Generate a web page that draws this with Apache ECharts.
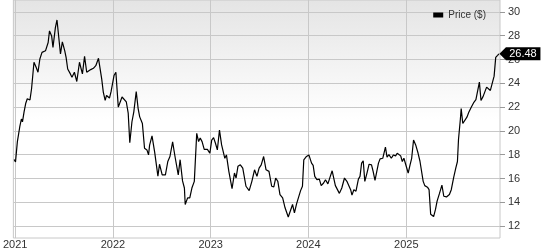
<!DOCTYPE html>
<html>
<head>
<meta charset="utf-8">
<script src="https://cdn.jsdelivr.net/npm/echarts@6/dist/echarts.min.js"></script>
<style>html,body{margin:0;padding:0;background:#fff}#c{width:541px;height:250px}</style>
</head>
<body>
<div id="c"></div>
<script>
const dates = [
'2020-12-28','2021-01-02','2021-01-09','2021-01-18','2021-01-24','2021-01-28','2021-02-03','2021-02-09','2021-02-15','2021-02-25',
'2021-03-03','2021-03-12','2021-03-20','2021-03-27','2021-04-03','2021-04-11','2021-04-24','2021-05-04','2021-05-09','2021-05-17',
'2021-05-22','2021-05-31','2021-06-06','2021-06-12','2021-06-19','2021-06-26','2021-07-05','2021-07-10','2021-07-16','2021-07-26',
'2021-08-01','2021-08-10','2021-08-19','2021-08-29','2021-09-09','2021-09-17','2021-09-25','2021-10-02','2021-10-10','2021-10-20',
'2021-10-29','2021-11-08','2021-11-14','2021-11-20','2021-11-26','2021-12-03','2021-12-08','2021-12-11','2021-12-19','2021-12-25',
'2021-12-30','2022-01-05','2022-01-12','2022-01-21','2022-01-27','2022-02-04','2022-02-11','2022-02-20','2022-02-27','2022-03-05',
'2022-03-13','2022-03-20','2022-03-29','2022-04-05','2022-04-11','2022-04-21','2022-04-29','2022-05-08','2022-05-14','2022-05-18',
'2022-05-27','2022-06-06','2022-06-18','2022-06-24','2022-07-04','2022-07-16','2022-07-25','2022-08-02','2022-08-12','2022-08-19',
'2022-08-22','2022-09-02','2022-09-09','2022-09-18','2022-09-25','2022-09-28','2022-10-07','2022-10-15','2022-10-23','2022-11-01',
'2022-11-04','2022-11-10','2022-11-17','2022-11-23','2022-11-30','2022-12-08','2022-12-20','2022-12-29',
'2023-01-05','2023-01-12','2023-01-19','2023-01-26','2023-02-03','2023-02-11','2023-02-17','2023-02-23','2023-03-01','2023-03-10',
'2023-03-22','2023-03-31','2023-04-06','2023-04-13','2023-04-22','2023-05-01','2023-05-13','2023-05-25','2023-06-04','2023-06-14',
'2023-06-23','2023-07-01','2023-07-09','2023-07-18','2023-07-27','2023-08-07','2023-08-17','2023-08-25','2023-09-01','2023-09-09',
'2023-09-17','2023-09-27','2023-10-06','2023-10-18','2023-10-25','2023-11-03','2023-11-10','2023-11-18','2023-11-25','2023-12-03',
'2023-12-10','2023-12-15','2023-12-25',
'2024-01-03','2024-01-13','2024-01-19','2024-01-25','2024-02-02','2024-02-11','2024-02-18','2024-02-27','2024-03-05','2024-03-14',
'2024-03-23','2024-03-30','2024-04-05','2024-04-11','2024-04-18','2024-04-26','2024-05-05','2024-05-15','2024-05-24','2024-05-30',
'2024-06-07','2024-06-12','2024-06-19','2024-06-27','2024-07-06','2024-07-12','2024-07-18','2024-07-24','2024-07-30','2024-08-07',
'2024-08-15','2024-08-24','2024-08-30','2024-09-06','2024-09-12','2024-09-19','2024-09-25','2024-10-05','2024-10-15','2024-10-21',
'2024-10-28','2024-11-06','2024-11-14','2024-11-22','2024-11-28','2024-12-05','2024-12-11','2024-12-17','2024-12-23','2024-12-29',
'2025-01-08','2025-01-15','2025-01-21','2025-01-28','2025-02-05','2025-02-14','2025-02-21','2025-02-27','2025-03-05','2025-03-11',
'2025-03-21','2025-03-27','2025-04-02','2025-04-13','2025-04-20','2025-04-26','2025-05-05','2025-05-14','2025-05-21','2025-05-31',
'2025-06-11','2025-06-18','2025-06-27','2025-07-05','2025-07-11','2025-07-15','2025-07-22','2025-07-25','2025-07-31','2025-08-07',
'2025-08-16','2025-08-22','2025-09-01','2025-09-09','2025-09-18','2025-09-24','2025-10-01','2025-10-07','2025-10-15','2025-10-22',
'2025-10-28','2025-11-03','2025-11-11','2025-11-18','2025-11-25','2025-12-01','2025-12-08','2025-12-13'
];
const prices = [
17.6,17.4,19.1,20.35,21.0,20.76,21.6,22.3,22.7,22.6,
23.54,25.77,25.35,24.93,26.04,26.6,26.73,27.43,28.4,27.98,
27.02,28.68,29.32,29.37,26.46,27.48,26.73,26.18,25.2,24.79,
24.5,24.93,24.15,25.77,24.79,26.26,24.93,24.79,25.15,25.26,
25.48,26.1,26.18,24.37,23.26,22.56,22.98,23.12,22.76,23.3,
23.2,24.65,24.93,22.0,21.87,22.85,22.9,22.43,21.5,19.0,
20.77,21.6,23.3,21.9,21.18,20.62,18.54,18.4,17.98,18.8,
19.58,18.2,16.2,17.2,16.3,16.3,17.43,17.85,19.07,18.1,
17.7,16.3,17.58,15.8,15.2,13.82,14.37,14.37,15.2,15.76,
15.9,19.79,19.1,19.4,19.1,18.45,18.45,18.12,
19.23,19.43,18.96,18.4,20.07,18.82,18.8,17.7,17.98,16.6,
15.15,16.46,16.04,17.02,17.15,16.87,15.35,14.98,15.76,16.73,
16.18,16.87,17.15,17.85,16.73,16.6,15.35,15.3,16.04,15.76,
14.65,14.37,13.54,12.76,12.9,13.82,13.12,13.87,13.9,14.98,
15.35,17.57,17.85,
17.98,17.29,17.1,16.18,15.9,15.95,15.4,15.62,15.9,15.55,
16.18,16.65,16.6,15.4,15.3,14.75,15.2,16.04,15.76,15.7,
15.06,14.6,15.06,14.93,15.95,16.18,17.29,17.48,15.76,16.46,
17.2,17.15,16.6,15.85,16.0,17.29,17.65,17.7,18.64,17.8,
18.0,17.7,17.98,17.9,18.12,17.98,17.9,17.43,17.7,17.6,
16.46,17.15,17.7,19.23,18.82,18.12,17.45,17.4,15.76,15.4,
15.27,15.06,13.0,12.8,13.4,14.1,14.75,15.45,14.51,14.45,
14.65,15.06,16.1,16.9,17.43,19.3,21.0,21.87,20.62,20.77,
21.18,21.55,22.0,22.35,22.62,22.7,24.1,22.56,22.9,23.0,
23.68,23.6,23.4,23.3,24.6,26.18,26.35,26.48
];
const yTickValues = [12,14,16,18,20,22,24,26,28,30];
const yearLabels = ['2021','2022','2023','2024','2025'];
const seriesName = 'Price ($)';
const lastLabel = '26.48';
const xStart = '2020-12-25';
const xEnd = '2025-12-17';

const chart = echarts.init(document.getElementById('c'), null, {renderer:'canvas'});
const font = "'Liberation Sans', Arial, sans-serif";
const ts = s => Date.parse(s + 'T00:00:00Z');
const yearTs = yearLabels.map(y => ts(y + '-01-01'));
const data = dates.map((d,i) => [ts(d), prices[i]]);
const last = data[data.length-1];

chart.setOption({
  animation: false,
  backgroundColor: '#fff',
  grid: {
    left: 9, right: 41, top: 0, bottom: 10,
    show: true,
    borderColor: '#c8c8c8', borderWidth: 1,
    backgroundColor: new echarts.graphic.LinearGradient(0,0,0,1,[
      {offset:0, color:'#e4e4e4'},{offset:0.5, color:'#ffffff'},{offset:1, color:'#ffffff'}
    ])
  },
  legend: {
    data: [seriesName],
    right: 50, top: 5,
    icon: 'rect', itemWidth: 10, itemHeight: 5, itemGap: 5,
    textStyle: {fontFamily: font, fontSize: 10, color: '#333'}
  },
  xAxis: {
    type: 'value',
    min: ts(xStart), max: ts(xEnd),
    axisLine: {show: false},
    axisTick: {show: false, customValues: yearTs},
    axisLabel: {
      customValues: yearTs,
      formatter: v => String(new Date(v).getUTCFullYear()),
      fontFamily: font, fontSize: 11, color: '#333', margin: 1
    },
    splitLine: {show: true, lineStyle: {color: '#c8c8c8', width: 1}}
  },
  yAxis: {
    type: 'value', position: 'right',
    min: 11, max: 31,
    axisLine: {show: false},
    axisTick: {show: true, inside: false, length: 5, customValues: yTickValues, lineStyle: {color: '#999'}},
    axisLabel: {customValues: yTickValues, fontFamily: font, fontSize: 11, color: '#333', margin: 8},
    splitLine: {show: true, lineStyle: {color: '#c8c8c8', width: 1}}
  },
  series: [{
    name: seriesName,
    type: 'line',
    data: data,
    showSymbol: false,
    color: '#000',
    lineStyle: {color: '#000', width: 1.2},
    markPoint: {
      silent: true,
      data: [{coord: last, value: lastLabel}],
      symbol: 'path://M0,6.5 L6.5,0 L41,0 L41,13 L6.5,13 Z',
      symbolSize: [41, 13],
      symbolOffset: [21, 0],
      itemStyle: {color: '#000'},
      label: {show: true, color: '#fff', fontFamily: font, fontSize: 11, offset: [3, 0], formatter: lastLabel}
    }
  }]
});
</script>
</body>
</html>
